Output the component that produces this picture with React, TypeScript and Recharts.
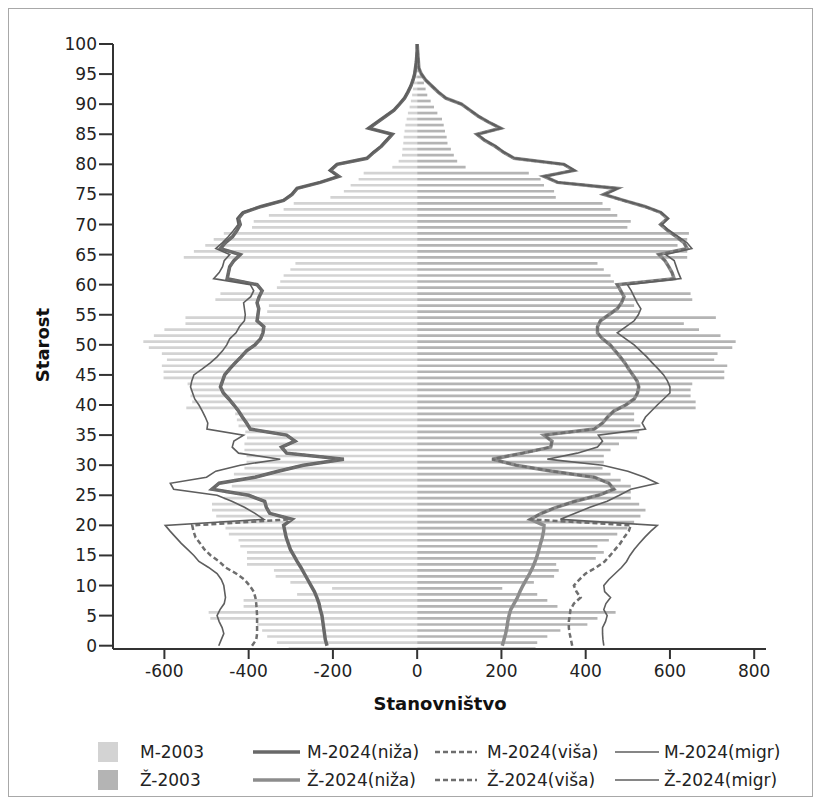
import { ComposedChart, Bar, Line, XAxis, YAxis, Legend } from 'recharts';

const FONT = '"DejaVu Sans", Verdana, sans-serif';

// ages 0..100, one value per single year of age
const AGES: number[] = Array.from({ length: 101 }, (_, i) => i);
const AGE_TICKS = [0, 5, 10, 15, 20, 25, 30, 35, 40, 45, 50, 55, 60, 65, 70, 75, 80, 85, 90, 95, 100];
const POP_TICKS = [-600, -400, -200, 0, 200, 400, 600, 800];

// 2003 census, men drawn to the left (negative)
const M_2003 = [
  -305, -333, -356, -368, -380, -491, -495, -412, -412, -285,
  -202, -301, -336, -340, -404, -404, -404, -420, -424, -447,
  -455, -470, -477, -487, -487, -459, -455, -440, -435, -435,
  -410, -405, -405, -410, -410, -404, -408, -424, -428, -432,
  -548, -534, -538, -538, -545, -602, -602, -606, -594, -606,
  -637, -650, -625, -600, -550, -550, -356, -352, -479, -467,
  -333, -325, -317, -301, -289, -554, -530, -503, -483, -459,
  -392, -388, -352, -317, -293, -206, -174, -158, -139, -127,
  -59, -44, -36, -35, -33, -32, -30, -28, -25, -22,
  -18, -15, -12, -10, -8, -6, -4, -3, -2, -1, -1,
];

const Z_2003 = [
  281, 285, 309, 340, 404, 428, 471, 333, 309, 285,
  202, 277, 325, 336, 330, 424, 443, 428, 455, 475,
  499, 515, 530, 542, 527, 507, 507, 507, 483, 459,
  440, 443, 443, 459, 479, 522, 527, 530, 515, 515,
  661, 661, 649, 649, 653, 729, 729, 736, 705, 713,
  748, 756, 720, 669, 633, 709, 527, 515, 653, 649,
  475, 467, 459, 443, 428, 641, 641, 618, 641, 645,
  499, 507, 475, 459, 440, 329, 325, 301, 293, 265,
  115, 95, 87, 80, 72, 70, 66, 63, 59, 48,
  40, 32, 24, 20, 16, 12, 9, 6, 4, 2, 1,
];

// 2024 projections
const M_NIZA = [
  -214, -218, -220, -222, -224, -226, -230, -233, -238, -244,
  -252, -260, -268, -276, -285, -293, -301, -306, -311, -314,
  -317, -297, -350, -358, -362, -400, -487, -470, -385, -330,
  -270, -174, -310, -322, -290, -310, -396, -405, -415, -424,
  -435, -447, -460, -467, -462, -457, -445, -432, -418, -405,
  -385, -372, -366, -364, -380, -378, -376, -380, -375, -368,
  -380, -451, -448, -445, -435, -420, -467, -455, -438, -428,
  -420, -424, -412, -370, -317, -297, -285, -230, -186, -206,
  -190, -119, -103, -85, -72, -59, -115, -95, -75, -55,
  -42, -30, -22, -15, -10, -6, -4, -2, -1, 0, 0,
];
// higher fertility only changes the cohorts born after 2003
const M_VISA_YOUNG = [
  -392, -382, -380, -380, -380, -380, -381, -382, -384, -388,
  -398, -410, -430, -455, -470, -490, -505, -515, -526, -531, -534,
];
const M_MIGR = [
  -471, -465, -459, -463, -470, -475, -468, -458, -455, -457,
  -459, -465, -475, -495, -518, -530, -545, -560, -573, -586,
  -598, -364, -385, -410, -440, -475, -578, -586, -500, -478,
  -420, -325, -424, -439, -435, -412, -499, -497, -503, -510,
  -518, -528, -533, -538, -535, -530, -510, -491, -475, -462,
  -452, -445, -430, -422, -410, -408, -410, -412, -395, -388,
  -396, -483, -470, -462, -458, -445, -478, -462, -448, -436,
  -425, -428, -416, -372, -319, -299, -287, -232, -188, -208,
  -192, -121, -105, -87, -74, -60, -116, -96, -76, -56,
  -43, -31, -23, -16, -10, -6, -4, -2, -1, 0, 0,
];

const Z_NIZA = [
  202, 206, 210, 213, 215, 218, 222, 230, 238, 244,
  251, 259, 267, 274, 280, 285, 289, 293, 297, 300,
  301, 269, 295, 330, 375, 430, 467, 455, 420, 320,
  235, 178, 250, 317, 320, 301, 420, 440, 452, 467,
  495, 515, 523, 526, 522, 512, 502, 493, 482, 470,
  458, 440, 428, 428, 435, 455, 475, 485, 491, 483,
  475, 610, 605, 597, 588, 574, 641, 633, 615, 595,
  578, 594, 578, 540, 490, 443, 475, 333, 301, 372,
  348, 230, 205, 185, 160, 142, 198, 170, 145, 125,
  105, 68, 50, 35, 20, 10, 4, 3, 2, 1, 0,
];
const Z_VISA_YOUNG = [
  368, 365, 362, 360, 360, 362, 364, 372, 388, 378,
  372, 385, 400, 425, 445, 458, 470, 482, 491, 502, 507,
];
const Z_MIGR = [
  443, 441, 440, 440, 447, 451, 443, 448, 459, 445,
  443, 455, 470, 485, 497, 505, 515, 527, 540, 554,
  570, 340, 375, 410, 451, 480, 507, 570, 540, 500,
  440, 309, 380, 428, 440, 430, 542, 534, 542, 556,
  570, 585, 600, 600, 594, 585, 572, 558, 545, 530,
  515, 495, 475, 495, 515, 525, 531, 522, 515, 508,
  499, 626, 620, 615, 610, 590, 652, 640, 620, 598,
  582, 596, 580, 542, 492, 445, 477, 335, 303, 374,
  350, 232, 207, 187, 162, 143, 199, 171, 146, 126,
  106, 69, 51, 36, 21, 10, 4, 3, 2, 1, 0,
];

const M_VISA = [...M_VISA_YOUNG, ...M_NIZA.slice(M_VISA_YOUNG.length)];
const Z_VISA = [...Z_VISA_YOUNG, ...Z_NIZA.slice(Z_VISA_YOUNG.length)];

// bars sit half a year below the tick, as in the original figure
const barRows = AGES.map((age) => ({ pos: age - 0.5, m2003: M_2003[age], z2003: Z_2003[age] }));
const lineRows = AGES.map((age) => ({
  pos: age,
  mNiza: M_NIZA[age],
  mVisa: M_VISA[age],
  mMigr: M_MIGR[age],
  zNiza: Z_NIZA[age],
  zVisa: Z_VISA[age],
  zMigr: Z_MIGR[age],
}));

const C_M2003 = '#d3d3d3';
const C_Z2003 = '#b4b4b4';
const C_MNIZA = '#686868';
const C_ZNIZA = '#8c8c8c';
const C_VISA = '#6e6e6e';
const C_MIGR = '#5e5e5e';

const LEGEND_ROWS = [
  { bar: 'M-2003', barFill: C_M2003, niza: 'M-2024(niža)', nizaColor: C_MNIZA, visa: 'M-2024(viša)', migr: 'M-2024(migr)' },
  { bar: 'Ž-2003', barFill: C_Z2003, niza: 'Ž-2024(niža)', nizaColor: C_ZNIZA, visa: 'Ž-2024(viša)', migr: 'Ž-2024(migr)' },
];

function PyramidLegend() {
  return (
    <svg width={803} height={70} style={{ fontFamily: FONT, display: 'block' }}>
      {LEGEND_ROWS.map((r, i) => {
        const y = 18 + i * 28;
        const txt = { fontSize: 17, fill: '#222', dominantBaseline: 'central' as const };
        return (
          <g key={r.bar}>
            <rect x={89} y={y - 10} width={20} height={20} fill={r.barFill} />
            <text x={131} y={y} {...txt}>{r.bar}</text>
            <line x1={244} x2={291} y1={y} y2={y} stroke={r.nizaColor} strokeWidth={3.5} />
            <text x={298} y={y} {...txt}>{r.niza}</text>
            <line x1={426} x2={468} y1={y} y2={y} stroke={C_VISA} strokeWidth={2.5} strokeDasharray="5 3" />
            <text x={478} y={y} {...txt}>{r.visa}</text>
            <line x1={606} x2={650} y1={y} y2={y} stroke={C_MIGR} strokeWidth={1.7} />
            <text x={655} y={y} {...txt}>{r.migr}</text>
          </g>
        );
      })}
    </svg>
  );
}

const tickStyle = { fontSize: 17, fill: '#222', fontFamily: FONT };

export default function App() {
  return (
    <div style={{ width: 803, height: 787, border: '1px solid #a8a8a8', position: 'relative', background: '#fff' }}>
      <ComposedChart
        width={803}
        height={787}
        layout="vertical"
        data={barRows}
        stackOffset="sign"
        margin={{ top: 35, right: 46, bottom: 107, left: 0 }}
        style={{ fontFamily: FONT }}
      >
        <XAxis
          type="number"
          domain={[-722, 828]}
          ticks={POP_TICKS}
          allowDataOverflow
          height={40}
          tickSize={10}
          tickMargin={6}
          tick={tickStyle}
          stroke="#333"
          strokeWidth={2}
          label={() => (
            <text x={431} y={694} textAnchor="middle" dominantBaseline="central" fontSize={18} fontWeight="bold" fill="#111" fontFamily={FONT}>
              Stanovništvo
            </text>
          )}
        />
        <YAxis
          type="number"
          dataKey="pos"
          domain={[-0.55, 100]}
          ticks={AGE_TICKS}
          reversed
          allowDataOverflow
          width={104}
          tickSize={14}
          tickMargin={2}
          tick={tickStyle}
          stroke="#333"
          strokeWidth={2}
          label={() => (
            <text x={33} y={336} transform="rotate(-90 33 336)" textAnchor="middle" dominantBaseline="central" fontSize={18} fontWeight="bold" fill="#111" fontFamily={FONT}>
              Starost
            </text>
          )}
        />
        <Bar dataKey="m2003" name="M-2003" stackId="p" fill={C_M2003} barSize={5.5} isAnimationActive={false} />
        <Bar dataKey="z2003" name="Ž-2003" stackId="p" fill={C_Z2003} barSize={5.5} isAnimationActive={false} />

        <Line data={lineRows} dataKey="mNiza" name="M-2024(niža)" stroke={C_MNIZA} strokeWidth={3.5} dot={false} type="linear" isAnimationActive={false} />
        <Line data={lineRows} dataKey="zNiza" name="Ž-2024(niža)" stroke={C_ZNIZA} strokeWidth={3.5} dot={false} type="linear" isAnimationActive={false} />
        <Line data={lineRows} dataKey="mVisa" name="M-2024(viša)" stroke={C_VISA} strokeWidth={2.5} strokeDasharray="5 3" dot={false} type="linear" isAnimationActive={false} />
        <Line data={lineRows} dataKey="zVisa" name="Ž-2024(viša)" stroke={C_VISA} strokeWidth={2.5} strokeDasharray="5 3" dot={false} type="linear" isAnimationActive={false} />
        <Line data={lineRows} dataKey="mMigr" name="M-2024(migr)" stroke={C_MIGR} strokeWidth={1.6} dot={false} type="linear" isAnimationActive={false} />
        <Line data={lineRows} dataKey="zMigr" name="Ž-2024(migr)" stroke={C_MIGR} strokeWidth={1.6} dot={false} type="linear" isAnimationActive={false} />

        <Legend
          content={() => <PyramidLegend />}
          layout="horizontal"
          verticalAlign="middle"
          align="center"
          wrapperStyle={{ top: 725, left: 0, width: 803, height: 70 }}
        />
      </ComposedChart>
    </div>
  );
}
